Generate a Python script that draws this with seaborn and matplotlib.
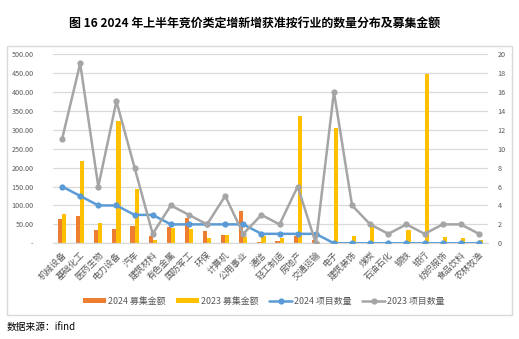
import numpy as np
import pandas as pd
import matplotlib
matplotlib.use("Agg")
import matplotlib.pyplot as plt
from matplotlib.patches import Rectangle, Patch
from matplotlib.lines import Line2D
from matplotlib.ticker import FuncFormatter, MultipleLocator
import seaborn as sns

industries = ["机械设备", "基础化工", "医药生物", "电力设备", "汽车", "建筑材料",
              "有色金属", "国防军工", "环保", "计算机", "公用事业", "通信",
              "轻工制造", "房地产", "交通运输", "电子", "建筑装饰", "煤炭",
              "石油石化", "钢铁", "银行", "纺织服饰", "食品饮料", "农林牧渔"]

amount_2024 = [64, 73, 35, 38, 47, 19, 43, 68, 33, 22, 85, 3,
               7, 20, 10, 0, 0, 0, 0, 0, 0, 0, 0, 0]
amount_2023 = [77, 218, 53, 322, 143, 9, 40, 37, 15, 22, 17, 19,
               15, 337, 3, 304, 19, 50, 0, 35, 448, 17, 13, 9]
count_2024 = [6, 5, 4, 4, 3, 3, 2, 2, 2, 2, 2, 1,
              1, 1, 1, 0, 0, 0, 0, 0, 0, 0, 0, 0]
count_2023 = [11, 19, 6, 15, 8, 1, 4, 3, 2, 5, 1, 3,
              2, 6, 0, 16, 4, 2, 1, 2, 1, 2, 2, 1]

series_names = ["2024 募集金额", "2023 募集金额", "2024 项目数量", "2023 项目数量"]
colors = ["#ED7D31", "#FFC000", "#5B9BD5", "#A5A5A5"]

sns.set_theme(style="white")
plt.rcParams["font.family"] = ["Noto Sans CJK SC", "DejaVu Sans"]
text_gray = "#595959"
grid_gray = "#D9D9D9"

bars = pd.DataFrame({
    "行业": industries * 2,
    "系列": [series_names[0]] * len(industries) + [series_names[1]] * len(industries),
    "金额": amount_2024 + amount_2023,
})

fig = plt.figure(figsize=(5.19, 3.39), dpi=100)
ax = fig.add_axes([0.1021, 0.2823, 0.8382, 0.5584])

sns.barplot(data=bars, x="行业", y="金额", hue="系列", hue_order=series_names[:2],
            palette=colors[:2], width=0.46, gap=0, dodge=True, saturation=1,
            linewidth=0, legend=False, ax=ax, order=industries)
ax.set_xlim(-0.5, len(industries) - 0.5)
ax.set_ylim(0, 500)
ax.yaxis.set_major_locator(MultipleLocator(50))
ax.yaxis.set_major_formatter(FuncFormatter(lambda v, p: "-" if abs(v) < 1e-9 else f"{v:.2f}"))
ax.grid(axis="y", color=grid_gray, linewidth=0.9)
ax.set_axisbelow(True)
ax.set_xlabel("")
ax.set_ylabel("")
for s in ["top", "left", "right"]:
    ax.spines[s].set_visible(False)
ax.spines["bottom"].set_color(grid_gray)
ax.spines["bottom"].set_linewidth(0.9)
ax.tick_params(axis="y", length=0, pad=14, labelsize=5.2, labelcolor=text_gray)
ax.tick_params(axis="x", length=0, pad=5, labelsize=6.4, labelcolor=text_gray)
ax.set_xticks(range(len(industries)))
ax.set_xticklabels(industries, rotation=45, ha="right", va="top",
                   rotation_mode="anchor")

ax2 = ax.twinx()
pos = np.arange(len(industries))
sns.lineplot(x=pos, y=count_2024, ax=ax2, color=colors[2], linewidth=1.8,
             marker="o", markersize=4.5, markeredgewidth=0)
sns.lineplot(x=pos, y=count_2023, ax=ax2, color=colors[3], linewidth=1.8,
             marker="o", markersize=4.5, markeredgewidth=0)
ax2.set_ylim(0, 20)
ax2.yaxis.set_major_locator(MultipleLocator(2))
ax2.set_ylabel("")
ax2.grid(False)
for s in ["top", "left", "right", "bottom"]:
    ax2.spines[s].set_visible(False)
ax2.tick_params(axis="y", length=0, pad=7, labelsize=5.2, labelcolor=text_gray)

handles = [
    Patch(facecolor=colors[0], edgecolor="none"),
    Patch(facecolor=colors[1], edgecolor="none"),
    Line2D([], [], color=colors[2], linewidth=1.8, marker="o", markersize=4.5, markeredgewidth=0),
    Line2D([], [], color=colors[3], linewidth=1.8, marker="o", markersize=4.5, markeredgewidth=0),
]
fig.legend(handles, series_names, loc="center", bbox_to_anchor=(0.508, 0.112),
           ncol=4, frameon=False, fontsize=6.4, labelcolor=text_gray,
           handlelength=2.6, handleheight=0.5, handletextpad=0.2, columnspacing=1.2)

fig.patches.append(Rectangle((0.0135, 0.071), 0.973, 0.794, transform=fig.transFigure,
                             fill=False, edgecolor=grid_gray, linewidth=1.0))

fig.text(0.49, 0.932, "图 16 2024 年上半年竞价类定增新增获准按行业的数量分布及募集金额",
         ha="center", va="center", fontsize=8.6, fontweight="bold", color="#000000")
fig.text(0.013, 0.033, "数据来源：ifind", ha="left", va="center", fontsize=7,
         color="#000000")

fig.savefig("out.png", dpi=100)
